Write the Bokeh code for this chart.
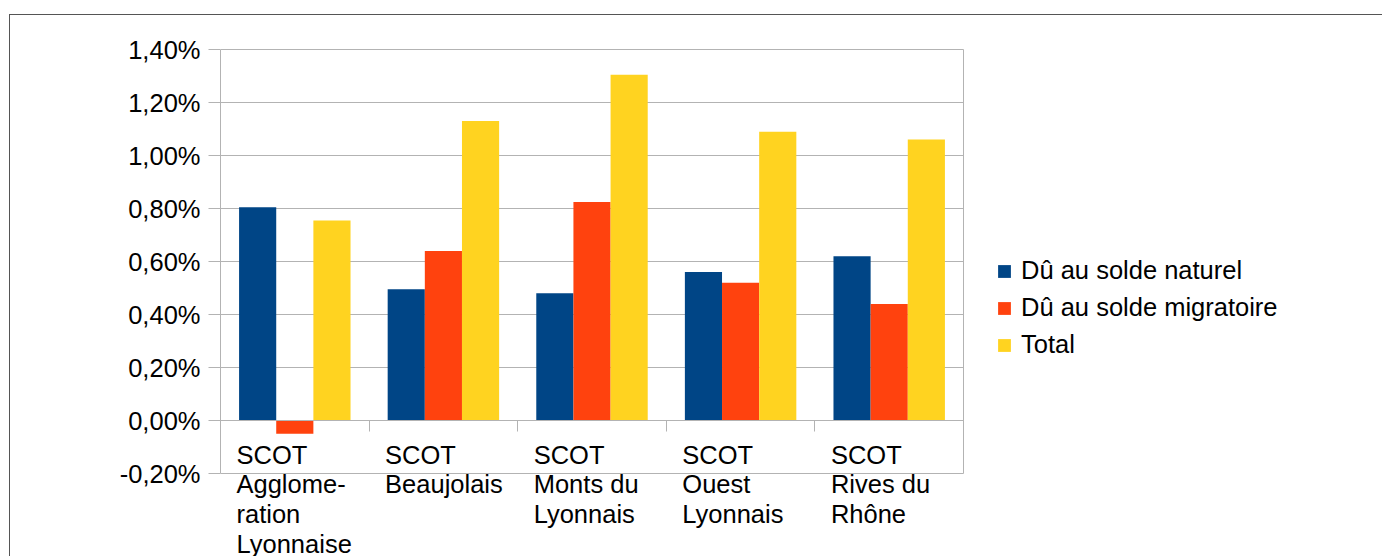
from bokeh.plotting import figure
from bokeh.models import (ColumnDataSource, FixedTicker, Legend, LegendItem, LabelSet,
                          LinearAxis, Range1d, InlineStyleSheet)
from bokeh.transform import dodge
from bokeh.core.properties import value
from bokeh.embed import file_html
from bokeh.resources import INLINE

# ---- data ----
categories = ["SCOT\nAgglome-\nration\nLyonnaise", "SCOT\nBeaujolais",
              "SCOT\nMonts du\nLyonnais", "SCOT\nOuest\nLyonnais", "SCOT\nRives du\nRhône"]
solde_naturel = [0.805, 0.495, 0.48, 0.56, 0.62]
solde_migratoire = [-0.05, 0.64, 0.825, 0.52, 0.44]
total = [0.755, 1.13, 1.305, 1.09, 1.06]
series_names = ["Dû au solde naturel", "Dû au solde migratoire", "Total"]
colors = ["#004586", "#ff420e", "#ffd320"]
y_ticks = [-0.2, 0.0, 0.2, 0.4, 0.6, 0.8, 1.0, 1.2, 1.4]
y_tick_labels = ["-0,20%", "0,00%", "0,20%", "0,40%", "0,60%", "0,80%", "1,00%", "1,20%", "1,40%"]

# ---- layout constants (pixels) ----
W, H = 1382, 556
LEFT = 220            # plot area left edge
AREA_W = 743          # plot area width
AREA_TOP, AREA_BOTTOM = 49, 473
FONT = "Liberation Sans"
FS = "25.5px"
GRID = "#b3b3b3"

n = len(categories)
y0, y1 = y_ticks[0], y_ticks[-1]
px_y = (y1 - y0) / (AREA_BOTTOM - AREA_TOP)       # data units per pixel (y)
px_x = n / AREA_W                                  # data units per pixel (x)

src = ColumnDataSource(dict(
    x=[i + 0.5 for i in range(n)],
    lx=[i for i in range(n)],
    cat=categories,
    nat=solde_naturel,
    mig=solde_migratoire,
    tot=total,
))

# the drawing frame covers everything right of the y axis so that labels and legend are not clipped
p = figure(width=W, height=H,
           x_range=Range1d(0, (W - LEFT) * px_x),
           y_range=Range1d(y1 - (H - AREA_TOP) * px_y, y1 + AREA_TOP * px_y),
           x_axis_type=None, y_axis_type=None, output_backend="svg", toolbar_location=None,
           min_border_left=LEFT, min_border_right=0, min_border_top=0, min_border_bottom=0)
p.outline_line_color = None
p.background_fill_color = "white"
p.border_fill_color = "white"
p.xgrid.visible = False
p.ygrid.visible = False

yaxis = LinearAxis(ticker=FixedTicker(ticks=y_ticks), bounds=(y0, y1),
                   major_label_overrides=dict(zip(y_ticks, y_tick_labels)),
                   major_tick_out=12, major_tick_in=0, minor_tick_out=0, minor_tick_in=0,
                   axis_line_color=GRID, major_tick_line_color=GRID,
                   major_label_standoff=8, major_label_text_font=FONT,
                   major_label_text_font_size=FS, major_label_text_color="black")
p.add_layout(yaxis, "left")

# right edge of the plot area
right_edge = LinearAxis(ticker=FixedTicker(ticks=[]), bounds=(y0, y1), fixed_location=n,
                        axis_line_color=GRID, major_tick_line_color=None, minor_tick_line_color=None,
                        major_label_text_font_size="0px")
p.add_layout(right_edge, "right")

# horizontal grid lines across the plot area
p.segment(x0=0, x1=n, y0=y_ticks, y1=y_ticks, line_color=GRID, line_width=1)

# axis line at 0 with category separator ticks
xaxis = LinearAxis(ticker=FixedTicker(ticks=list(range(n + 1))), fixed_location=0, bounds=(0, n),
                   major_label_overrides={i: "" for i in range(n + 1)},
                   major_tick_out=11, major_tick_in=0, minor_tick_out=0, minor_tick_in=0,
                   axis_line_color=GRID, major_tick_line_color=GRID)
p.add_layout(xaxis, "below")

renderers = []
for col, off, c in zip(["nat", "mig", "tot"], [-0.25, 0.0, 0.25], colors):
    r = p.vbar(x=dodge("x", off), top=col, bottom=0, width=0.25, source=src,
               fill_color=c, line_color=None)
    renderers.append(r)

labels = LabelSet(x="lx", y=0, text="cat", x_offset=16, y_offset=-20, source=src,
                  text_align="left", text_baseline="top", text_font=value(FONT),
                  text_font_size=FS, text_color="black", text_line_height=1.065)
p.add_layout(labels)

legend = Legend(items=[LegendItem(label=nm, renderers=[r]) for nm, r in zip(series_names, renderers)],
                location=(776, 197), glyph_width=16, glyph_height=16, label_standoff=9,
                spacing=8, padding=0, margin=0, border_line_color=None,
                background_fill_alpha=0, label_text_font=FONT, label_text_font_size=FS,
                label_text_color="black")
p.add_layout(legend)

p.stylesheets = [InlineStyleSheet(css=""":host::after {
  content: ""; position: absolute; left: 9px; top: 14px; right: 0; bottom: 0;
  border-left: 1.5px solid #555555; border-top: 1.5px solid #555555;
  pointer-events: none; box-sizing: border-box;
}""")]

open("out.html", "w").write(file_html(p, INLINE))
